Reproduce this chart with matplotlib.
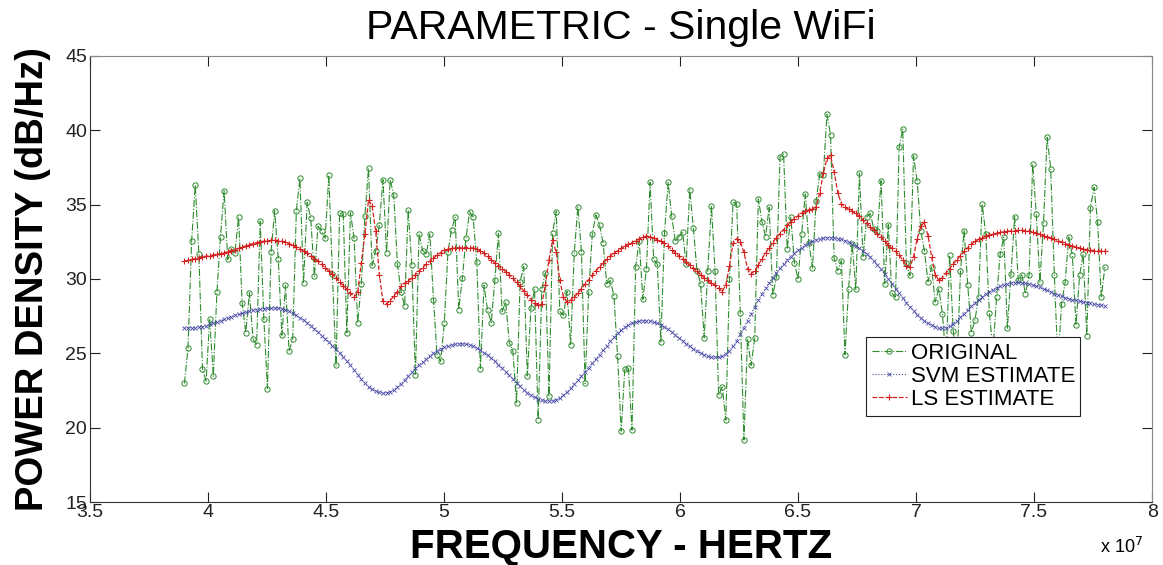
import numpy as np
import matplotlib
matplotlib.use("Agg")
import matplotlib.pyplot as plt

plt.rcParams['font.family'] = ['Liberation Sans', 'DejaVu Sans']

# frequency bins (Hz)
freq = np.linspace(3.9e7, 7.8e7, 256)

original = [
    22.98, 25.37, 32.58, 36.31, 31.69, 23.98, 23.13, 27.33, 23.47, 29.10,
    32.85, 35.93, 31.31, 32.02, 31.76, 34.15, 28.38, 26.39, 29.08, 25.99,
    25.55, 33.88, 27.33, 22.64, 31.80, 34.59, 31.35, 26.22, 29.57, 25.14,
    25.99, 34.55, 36.76, 29.72, 35.15, 34.08, 30.17, 33.54, 33.25, 32.74,
    36.98, 30.35, 24.20, 34.41, 34.37, 26.39, 34.46, 32.74, 27.06, 29.68,
    34.21, 37.43, 30.91, 31.91, 33.65, 36.67, 31.76, 36.67, 35.64, 31.02,
    29.16, 28.18, 34.64, 30.91, 23.53, 33.03, 31.91, 31.69, 33.03, 28.61,
    24.87, 24.47, 27.04, 31.80, 33.32, 34.15, 27.94, 30.06, 32.74, 34.53,
    34.15, 31.13, 23.98, 29.57, 27.89, 27.06, 29.90, 33.07, 27.82, 28.45,
    25.72, 25.17, 21.68, 29.83, 30.84, 23.49, 28.05, 29.30, 20.56, 29.34,
    30.42, 22.15, 33.10, 34.53, 27.82, 27.56, 29.16, 25.59, 31.73, 34.86,
    31.80, 22.98, 29.16, 33.03, 34.30, 33.65, 32.40, 29.68, 29.90, 28.85,
    24.81, 19.78, 23.98, 24.05, 19.85, 30.80, 32.58, 28.63, 30.68, 36.49,
    31.31, 31.02, 25.77, 33.07, 36.49, 34.21, 32.52, 32.85, 33.19, 31.02,
    36.00, 33.41, 30.57, 29.68, 26.06, 30.57, 34.93, 30.57, 22.19, 22.75,
    20.52, 30.01, 35.20, 35.04, 27.71, 19.18, 25.99, 24.20, 26.06, 35.38,
    33.86, 32.85, 34.82, 28.90, 30.13, 38.21, 38.39, 32.02, 34.15, 31.09,
    29.97, 33.03, 35.71, 32.43, 30.73, 35.26, 37.05, 36.98, 41.07, 39.69,
    31.40, 30.57, 31.24, 24.92, 29.34, 32.36, 29.30, 37.12, 31.47, 34.15,
    34.41, 33.36, 33.25, 36.60, 29.68, 33.65, 29.05, 28.78, 38.84, 40.07,
    31.06, 30.24, 38.28, 36.56, 33.25, 31.91, 29.83, 30.80, 28.45, 29.34,
    27.67, 24.50, 31.58, 26.50, 24.00, 30.53, 33.25, 29.63, 26.40, 27.22,
    28.78, 35.04, 33.03, 27.73, 25.20, 28.78, 31.69, 32.81, 26.70, 30.35,
    34.19, 29.90, 30.28, 29.01, 30.24, 37.72, 34.37, 29.79, 33.74, 39.51,
    37.39, 30.24, 24.30, 28.34, 29.79, 32.81, 31.58, 26.90, 30.24, 31.69,
    26.20, 34.80, 36.15, 33.80, 28.80, 30.80,
]

svm_estimate = [
    26.70, 26.70, 26.72, 26.74, 26.77, 26.80, 26.87, 26.95, 27.03, 27.11,
    27.20, 27.29, 27.38, 27.47, 27.56, 27.63, 27.70, 27.77, 27.83, 27.90,
    27.94, 27.98, 28.01, 28.03, 28.05, 28.05, 28.04, 28.00, 27.93, 27.83,
    27.70, 27.55, 27.40, 27.22, 27.05, 26.86, 26.65, 26.43, 26.20, 25.98,
    25.75, 25.52, 25.30, 25.03, 24.76, 24.48, 24.20, 23.88, 23.56, 23.25,
    22.98, 22.75, 22.58, 22.46, 22.39, 22.35, 22.36, 22.43, 22.55, 22.72,
    22.95, 23.20, 23.48, 23.75, 24.00, 24.22, 24.42, 24.62, 24.82, 25.00,
    25.17, 25.30, 25.41, 25.50, 25.57, 25.62, 25.65, 25.65, 25.62, 25.57,
    25.48, 25.36, 25.22, 25.06, 24.88, 24.68, 24.47, 24.25, 24.02, 23.77,
    23.52, 23.27, 23.02, 22.78, 22.56, 22.36, 22.18, 22.04, 21.93, 21.86,
    21.81, 21.80, 21.83, 21.90, 22.02, 22.18, 22.40, 22.65, 22.92, 23.20,
    23.48, 23.76, 24.04, 24.33, 24.62, 24.92, 25.22, 25.52, 25.82, 26.10,
    26.36, 26.58, 26.77, 26.93, 27.05, 27.13, 27.18, 27.20, 27.20, 27.17,
    27.12, 27.03, 26.92, 26.78, 26.62, 26.44, 26.24, 26.04, 25.85, 25.66,
    25.48, 25.32, 25.17, 25.03, 24.91, 24.82, 24.76, 24.73, 24.75, 24.82,
    24.96, 25.18, 25.48, 25.85, 26.28, 26.74, 27.21, 27.68, 28.13, 28.57,
    28.99, 29.39, 29.76, 30.10, 30.42, 30.72, 31.00, 31.26, 31.50, 31.72,
    31.92, 32.10, 32.26, 32.40, 32.52, 32.62, 32.70, 32.75, 32.78, 32.78,
    32.76, 32.72, 32.66, 32.58, 32.48, 32.36, 32.22, 32.06, 31.88, 31.68,
    31.46, 31.21, 30.94, 30.65, 30.34, 30.02, 29.69, 29.36, 29.03, 28.72,
    28.42, 28.13, 27.86, 27.61, 27.39, 27.19, 27.02, 26.88, 26.77, 26.71,
    26.70, 26.74, 26.84, 27.00, 27.20, 27.43, 27.68, 27.93, 28.17, 28.40,
    28.61, 28.81, 28.99, 29.15, 29.29, 29.41, 29.52, 29.61, 29.68, 29.73,
    29.76, 29.77, 29.76, 29.73, 29.68, 29.62, 29.54, 29.45, 29.35, 29.24,
    29.13, 29.02, 28.92, 28.83, 28.75, 28.68, 28.62, 28.56, 28.51, 28.46,
    28.41, 28.37, 28.32, 28.28, 28.24, 28.20,
]

ls_estimate = [
    31.20, 31.25, 31.31, 31.37, 31.43, 31.49, 31.53, 31.57, 31.61, 31.65,
    31.70, 31.76, 31.83, 31.90, 31.97, 32.05, 32.14, 32.23, 32.31, 32.38,
    32.44, 32.49, 32.54, 32.57, 32.59, 32.60, 32.58, 32.53, 32.46, 32.37,
    32.27, 32.15, 32.02, 31.88, 31.72, 31.55, 31.37, 31.19, 30.98, 30.76,
    30.54, 30.31, 30.08, 29.82, 29.56, 29.30, 29.05, 28.80, 29.10, 31.10,
    33.00, 35.30, 34.90, 33.20, 30.30, 28.50, 28.35, 28.55, 28.85, 29.15,
    29.50, 29.72, 29.88, 30.05, 30.30, 30.53, 30.77, 31.00, 31.20, 31.40,
    31.60, 31.78, 31.92, 32.00, 32.05, 32.08, 32.10, 32.11, 32.11, 32.10,
    32.08, 32.02, 31.90, 31.72, 31.52, 31.30, 31.09, 30.89, 30.70, 30.50,
    30.30, 30.05, 29.78, 29.50, 29.20, 28.90, 28.62, 28.40, 28.25, 28.30,
    29.60, 31.30, 32.60, 31.80, 29.90, 28.80, 28.45, 28.58, 28.78, 29.05,
    29.35, 29.65, 29.95, 30.25, 30.55, 30.82, 31.08, 31.32, 31.55, 31.74,
    31.90, 32.05, 32.20, 32.33, 32.45, 32.57, 32.68, 32.80, 32.88, 32.85,
    32.73, 32.62, 32.52, 32.40, 32.20, 31.98, 31.75, 31.55, 31.35, 31.14,
    30.93, 30.72, 30.51, 30.30, 30.10, 29.92, 29.74, 29.57, 29.40, 29.15,
    29.60, 30.90, 32.40, 32.70, 32.50, 31.80, 30.70, 30.35, 30.55, 30.95,
    31.35, 31.75, 32.10, 32.45, 32.78, 33.05, 33.32, 33.60, 33.85, 34.05,
    34.25, 34.42, 34.55, 34.65, 34.72, 34.82, 35.80, 37.10, 38.10, 38.30,
    37.20, 35.80, 35.05, 34.82, 34.68, 34.55, 34.40, 34.20, 33.98, 33.75,
    33.52, 33.28, 33.04, 32.80, 32.55, 32.30, 32.05, 31.85, 31.60, 31.30,
    30.90, 30.80, 31.50, 32.70, 33.55, 33.80, 32.90, 31.50, 30.30, 29.90,
    30.10, 30.40, 30.70, 31.00, 31.30, 31.57, 31.85, 32.10, 32.32, 32.52,
    32.66, 32.77, 32.87, 32.95, 33.02, 33.08, 33.13, 33.17, 33.20, 33.23,
    33.25, 33.27, 33.27, 33.25, 33.20, 33.13, 33.06, 32.99, 32.92, 32.85,
    32.77, 32.68, 32.58, 32.48, 32.38, 32.30, 32.22, 32.15, 32.08, 32.02,
    31.97, 31.94, 31.91, 31.89, 31.88, 31.87,
]

xticks = [3.5e7, 4e7, 4.5e7, 5e7, 5.5e7, 6e7, 6.5e7, 7e7, 7.5e7, 8e7]
xtick_labels = ["3.5", "4", "4.5", "5", "5.5", "6", "6.5", "7", "7.5", "8"]
yticks = [15, 20, 25, 30, 35, 40, 45]

fig = plt.figure(figsize=(11.63, 5.65), dpi=100)
ax = fig.add_axes([0.0774, 0.1110, 0.9132, 0.7904])

ax.plot(freq, original, linestyle='-.', color='#2e8b2e', linewidth=0.8,
        marker='o', markersize=3.8, markerfacecolor='none',
        markeredgewidth=0.7, label='ORIGINAL')
ax.plot(freq, svm_estimate, linestyle=':', color='#4a4aa8', linewidth=0.8,
        marker='x', markersize=2.5, markeredgewidth=0.6, label='SVM ESTIMATE')
ax.plot(freq, ls_estimate, linestyle='--', color='#d42020', linewidth=0.9,
        marker='+', markersize=4, markeredgewidth=0.8, label='LS ESTIMATE')

ax.set_xlim(3.5e7, 8e7)
ax.set_ylim(15, 45)
ax.set_xticks(xticks)
ax.set_xticklabels(xtick_labels)
ax.set_yticks(yticks)

ax.tick_params(axis='both', direction='in', length=7, width=0.8,
               top=True, right=True, labelsize=14, colors='#222222')
ax.tick_params(axis='x', pad=1)
ax.tick_params(axis='y', pad=2)
for side in ['bottom', 'left']:
    ax.spines[side].set_color('#333333')
for side in ['top', 'right']:
    ax.spines[side].set_color('#888888')

ax.set_title('PARAMETRIC - Single WiFi', fontsize=29.5, pad=12)
ax.set_xlabel('FREQUENCY - HERTZ', fontsize=29, fontweight='bold', labelpad=5)
ax.set_ylabel('POWER DENSITY (dB/Hz)', fontsize=27.5, fontweight='bold', labelpad=10)

fig.text(1100 / 1163, 1 - 553 / 565, r'x 10$^{7}$', fontsize=13,
         ha='left', va='baseline')

leg = ax.legend(loc='upper left', bbox_to_anchor=(0.7307, 0.370),
                fontsize=16, fancybox=False, framealpha=1, edgecolor='#222222',
                handlelength=1.6, handletextpad=0.15, labelspacing=0.1,
                borderpad=0.25, borderaxespad=0)
leg.get_frame().set_linewidth(0.8)

fig.savefig('out.png', dpi=100)
